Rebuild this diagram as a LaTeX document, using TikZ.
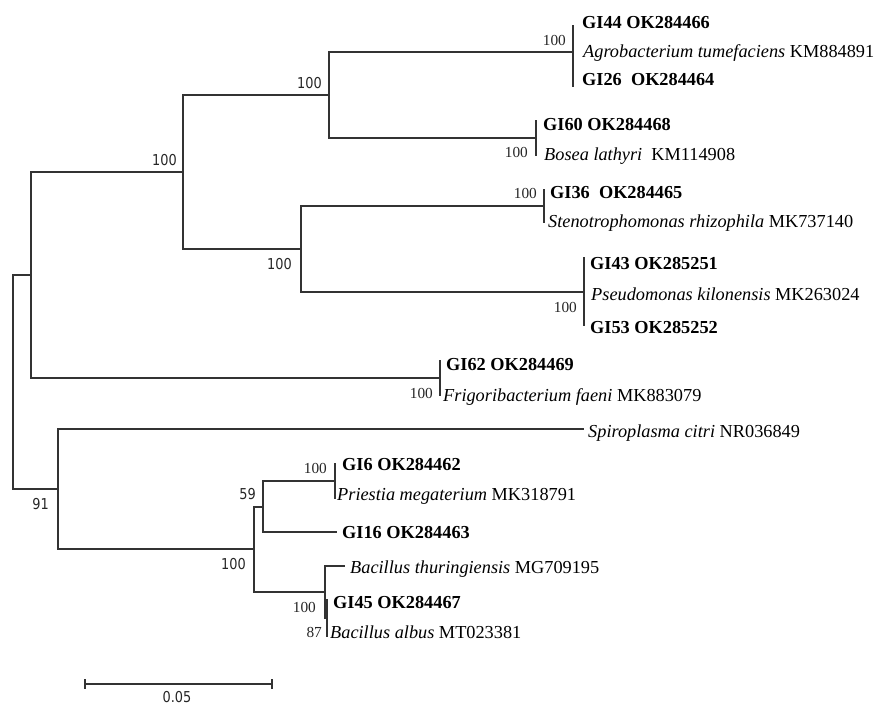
\documentclass[tikz,border=0pt]{standalone}
\usepackage{fontspec}
\setmainfont{Liberation Serif}
\newfontfamily\bsfont[FakeStretch=0.86]{DejaVu Sans}
\begin{document}
\begin{tikzpicture}[x=1pt,y=-1pt,
  branch/.style={line width=1.2pt, draw=black!80},
  tb/.style={anchor=base west, inner sep=0pt, font=\fontsize{18.3}{20}\selectfont\bfseries},
  tn/.style={anchor=base west, inner sep=0pt, font=\fontsize{18.3}{20}\selectfont},
  bsr/.style={anchor=base east, inner sep=0pt, font=\fontsize{15.3}{17}\selectfont, text=black!85},
  bss/.style={anchor=base east, inner sep=0pt, font=\bsfont\fontsize{15}{17}\selectfont, text=black!85}]
\fill[white] (0,0) rectangle (880,704);
\useasboundingbox (0,0) rectangle (880,704);
% internal nodes
\coordinate (root) at (13,382);
\coordinate (A) at (31,275);
\coordinate (C) at (58,489);
\coordinate (N1) at (183,172);
\coordinate (N62) at (440,378);
\coordinate (B) at (329,95);
\coordinate (E) at (301,249);
\coordinate (N44) at (573,52);
\coordinate (N60) at (536,138);
\coordinate (N36) at (544,206);
\coordinate (N43) at (584,292);
\coordinate (D) at (254,549);
\coordinate (N59) at (263,507);
\coordinate (F) at (325,592);
\coordinate (N6) at (335,481);
\coordinate (G) at (327,618);
% tips
\coordinate (t44a) at (573,25);  \coordinate (t44b) at (573,87);
\coordinate (t60a) at (536,120); \coordinate (t60b) at (536,156);
\coordinate (t36a) at (544,189); \coordinate (t36b) at (544,223);
\coordinate (t43a) at (584,257); \coordinate (t43b) at (584,326);
\coordinate (t62a) at (440,360); \coordinate (t62b) at (440,396);
\coordinate (tspi) at (584,429);
\coordinate (t6a) at (335,463);  \coordinate (t6b) at (335,499);
\coordinate (t16) at (337,532);
\coordinate (tthu) at (345,566);
\coordinate (t45a) at (327,599); \coordinate (t45b) at (327,637);
% branches
\draw[branch] (root) |- (A);  \draw[branch] (root) |- (C);
\draw[branch] (A) |- (N1);    \draw[branch] (A) |- (N62);
\draw[branch] (N1) |- (B);    \draw[branch] (N1) |- (E);
\draw[branch] (B) |- (N44);   \draw[branch] (B) |- (N60);
\draw[branch] (N44) -- (t44a); \draw[branch] (N44) -- (t44b);
\draw[branch] (N60) -- (t60a); \draw[branch] (N60) -- (t60b);
\draw[branch] (E) |- (N36);   \draw[branch] (E) |- (N43);
\draw[branch] (N36) -- (t36a); \draw[branch] (N36) -- (t36b);
\draw[branch] (N43) -- (t43a); \draw[branch] (N43) -- (t43b);
\draw[branch] (N62) -- (t62a); \draw[branch] (N62) -- (t62b);
\draw[branch] (C) |- (tspi);  \draw[branch] (C) |- (D);
\draw[branch] (D) |- (N59);   \draw[branch] (D) |- (F);
\draw[branch] (N59) |- (N6);  \draw[branch] (N59) |- (t16);
\draw[branch] (N6) -- (t6a);  \draw[branch] (N6) -- (t6b);
\draw[branch] (F) |- (tthu);  \draw[branch] (F) |- (G);
\draw[branch] (G) -- (t45a);  \draw[branch] (G) -- (t45b);
% taxon labels
\node[tb] (l44) at (582,28.5) {GI44 OK284466};
\node[tn] (lagr) at (583,57) {\textit{Agrobacterium tumefaciens} KM884891};
\node[tb] (l26) at (582,85) {GI26\ \ OK284464};
\node[tb] (l60) at (543,130.5) {GI60 OK284468};
\node[tn] (lbos) at (544,160) {\textit{Bosea lathyri}\ \ KM114908};
\node[tb] (l36) at (550,198) {GI36\ \ OK284465};
\node[tn] (lste) at (548,227) {\textit{Stenotrophomonas rhizophila} MK737140};
\node[tb] (l43) at (590,269) {GI43 OK285251};
\node[tn] (lpse) at (591,300) {\textit{Pseudomonas kilonensis} MK263024};
\node[tb] (l53) at (590,333) {GI53 OK285252};
\node[tb] (l62) at (446,370) {GI62 OK284469};
\node[tn] (lfri) at (443,401) {\textit{Frigoribacterium faeni} MK883079};
\node[tn] (lspi) at (588,437) {\textit{Spiroplasma citri} NR036849};
\node[tb] (l6) at (342,470) {GI6 OK284462};
\node[tn] (lpri) at (337,500) {\textit{Priestia megaterium} MK318791};
\node[tb] (l16) at (342,538) {GI16 OK284463};
\node[tn] (lthu) at (350,573) {\textit{Bacillus thuringiensis} MG709195};
\node[tb] (l45) at (333,608) {GI45 OK284467};
\node[tn] (lalb) at (330,638) {\textit{Bacillus albus} MT023381};
% bootstrap values
\node[bsr] (b44) at (566,45) {100};
\node[bsr] (b60) at (528,157) {100};
\node[bsr] (b36) at (537,198) {100};
\node[bsr] (b43) at (577,312) {100};
\node[bsr] (b62) at (433,398) {100};
\node[bsr] (b6) at (327,473) {100};
\node[bsr] (bF) at (316,612) {100};
\node[bsr] (bG) at (322,637) {87};
\node[bss] (bN1) at (177,165) {100};
\node[bss] (bB) at (322,88) {100};
\node[bss] (bE) at (292,269) {100};
\node[bss] (bC) at (49,509) {91};
\node[bss] (b59) at (256,499) {59};
\node[bss] (bD) at (246,569) {100};
% scale bar
\coordinate (s1) at (85,684);
\coordinate (s2) at (272,684);
\draw[branch] (s1) -- (s2);
\draw[branch] ([yshift=5pt]s1) -- ([yshift=-5pt]s1);
\draw[branch] ([yshift=5pt]s2) -- ([yshift=-5pt]s2);
\node[bss, anchor=base] (sl) at (177,702) {0.05};
\end{tikzpicture}
\end{document}
